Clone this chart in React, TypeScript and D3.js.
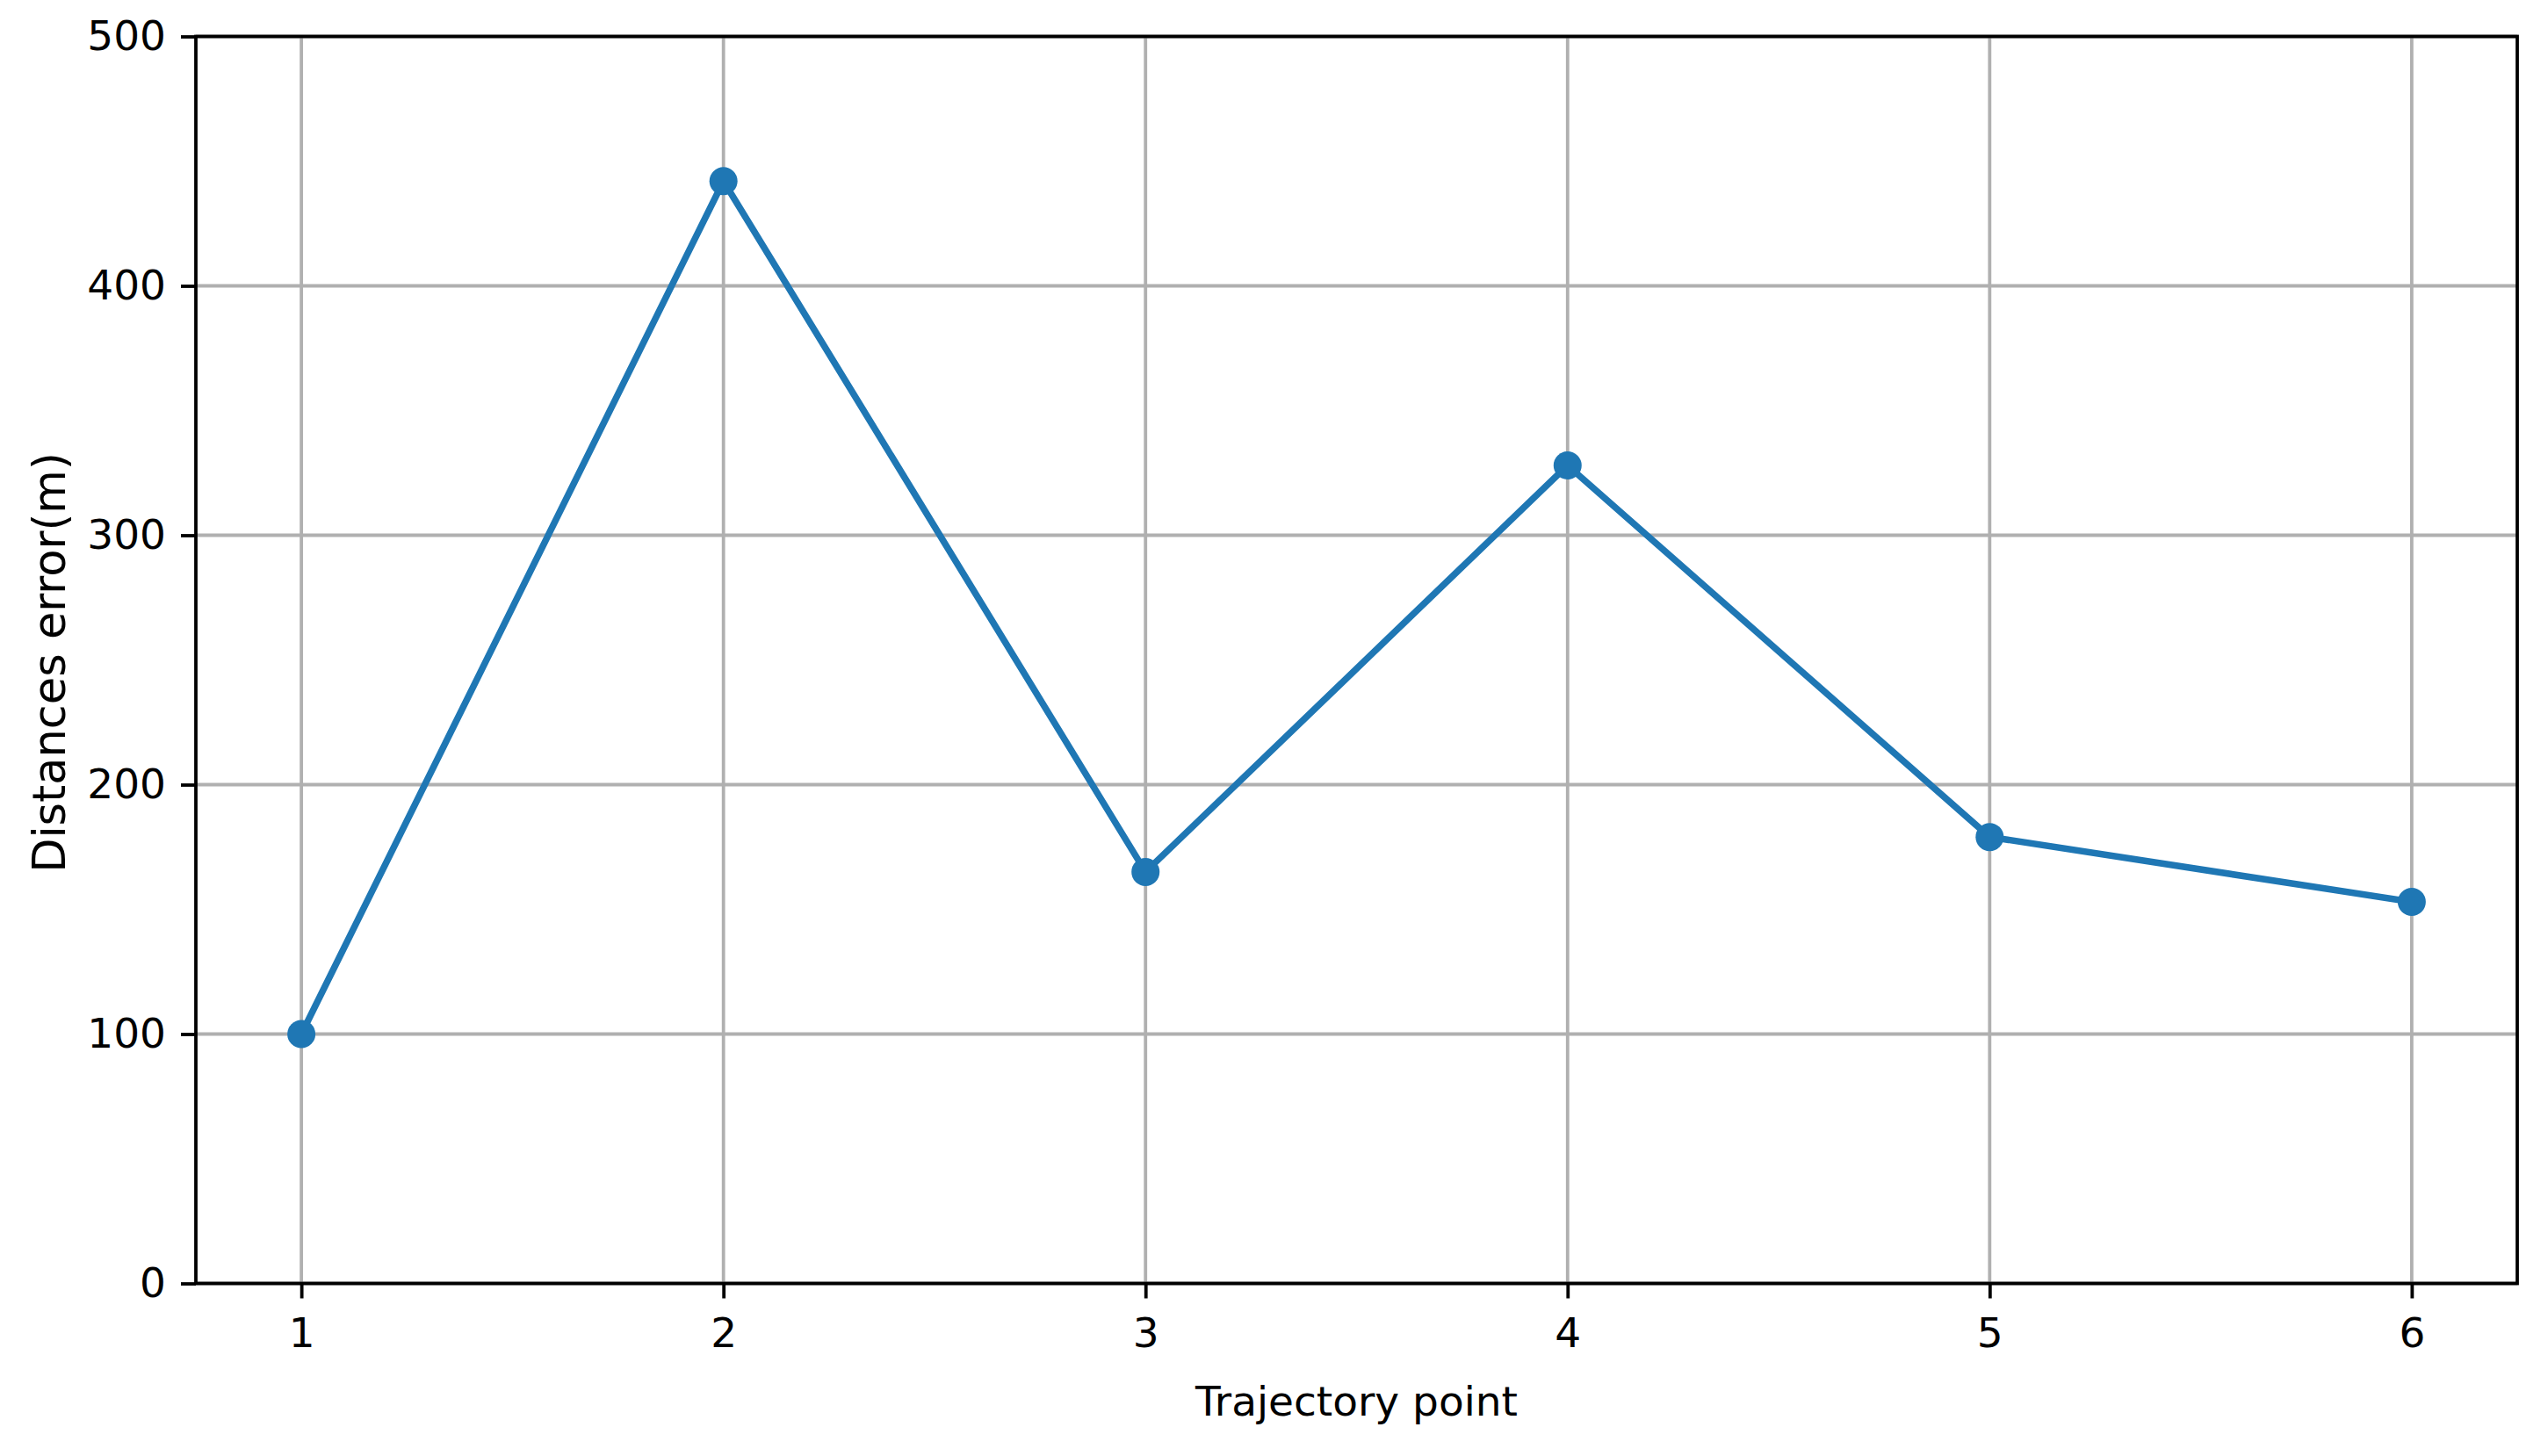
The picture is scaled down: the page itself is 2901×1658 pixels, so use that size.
import React, { useEffect, useRef } from "react";
import * as d3 from "d3";

// trajectory points and their distance errors (m)
const points = [1, 2, 3, 4, 5, 6];
const errors = [100, 442, 165, 328, 179, 153];
const yTicks = [0, 100, 200, 300, 400, 500];

const xLabel = "Trajectory point";
const yLabel = "Distances error(m)";

function App() {
  const ref = useRef<SVGSVGElement>(null);

  const width = 2901,
    height = 1658;
  const margin = { top: 41.5, right: 35, bottom: 196.5, left: 223 };
  const font = "'DejaVu Sans', sans-serif";
  const fontSize = 47;

  useEffect(() => {
    const svg = d3.select(ref.current);
    svg.selectAll("*").remove();

    const x = d3
      .scaleLinear()
      .domain([0.75, 6.25])
      .range([margin.left, width - margin.right]);
    const y = d3
      .scaleLinear()
      .domain([0, 500])
      .range([height - margin.bottom, margin.top]);

    const data = points.map((p, i) => ({ p, v: errors[i] }));

    // grid
    const grid = svg.append("g").attr("stroke", "#b0b0b0").attr("stroke-width", 3.8);
    grid
      .selectAll("line.vx")
      .data(points)
      .join("line")
      .attr("x1", (d) => x(d))
      .attr("x2", (d) => x(d))
      .attr("y1", y(0))
      .attr("y2", y(500));
    grid
      .selectAll("line.hy")
      .data(yTicks)
      .join("line")
      .attr("class", "hy")
      .attr("x1", x(0.75))
      .attr("x2", x(6.25))
      .attr("y1", (d) => y(d))
      .attr("y2", (d) => y(d));

    // line + markers
    svg
      .append("path")
      .datum(data)
      .attr("fill", "none")
      .attr("stroke", "#1f77b4")
      .attr("stroke-width", 7.5)
      .attr("stroke-linejoin", "round")
      .attr(
        "d",
        d3
          .line<{ p: number; v: number }>()
          .x((d) => x(d.p))
          .y((d) => y(d.v))
      );
    svg
      .append("g")
      .selectAll("circle")
      .data(data)
      .join("circle")
      .attr("cx", (d) => x(d.p))
      .attr("cy", (d) => y(d.v))
      .attr("r", 16)
      .attr("fill", "#1f77b4");

    // axes
    const xAxis = svg
      .append("g")
      .attr("transform", `translate(0,${y(0)})`)
      .call(
        d3
          .axisBottom(x)
          .tickValues(points)
          .tickFormat(d3.format("d"))
          .tickSizeInner(17)
          .tickSizeOuter(0)
          .tickPadding(22)
      );
    const yAxis = svg
      .append("g")
      .attr("transform", `translate(${x(0.75)},0)`)
      .call(
        d3
          .axisLeft(y)
          .tickValues(yTicks)
          .tickFormat(d3.format("d"))
          .tickSizeInner(17)
          .tickSizeOuter(0)
          .tickPadding(17)
      );
    [xAxis, yAxis].forEach((g) => {
      g.select(".domain").remove();
      g.selectAll("line").attr("stroke", "#000").attr("stroke-width", 3.8);
      g.selectAll("text")
        .attr("fill", "#000")
        .style("font-family", font)
        .style("font-size", `${fontSize}px`);
    });

    // spines
    svg
      .append("rect")
      .attr("x", x(0.75))
      .attr("y", y(500))
      .attr("width", x(6.25) - x(0.75))
      .attr("height", y(0) - y(500))
      .attr("fill", "none")
      .attr("stroke", "#000")
      .attr("stroke-width", 3.8);

    // axis labels
    svg
      .append("text")
      .attr("x", (x(0.75) + x(6.25)) / 2)
      .attr("y", 1612)
      .attr("text-anchor", "middle")
      .style("font-family", font)
      .style("font-size", `${fontSize}px`)
      .text(xLabel);
    svg
      .append("text")
      .attr("transform", `translate(74,${(y(0) + y(500)) / 2 + 3}) rotate(-90)`)
      .attr("text-anchor", "middle")
      .style("font-family", font)
      .style("font-size", "51px")
      .text(yLabel);
  }, []);

  return (
    <svg
      ref={ref}
      width={width}
      height={height}
      style={{ position: "absolute", left: 0, top: 0, background: "#fff" }}
    />
  );
}

export default App;
